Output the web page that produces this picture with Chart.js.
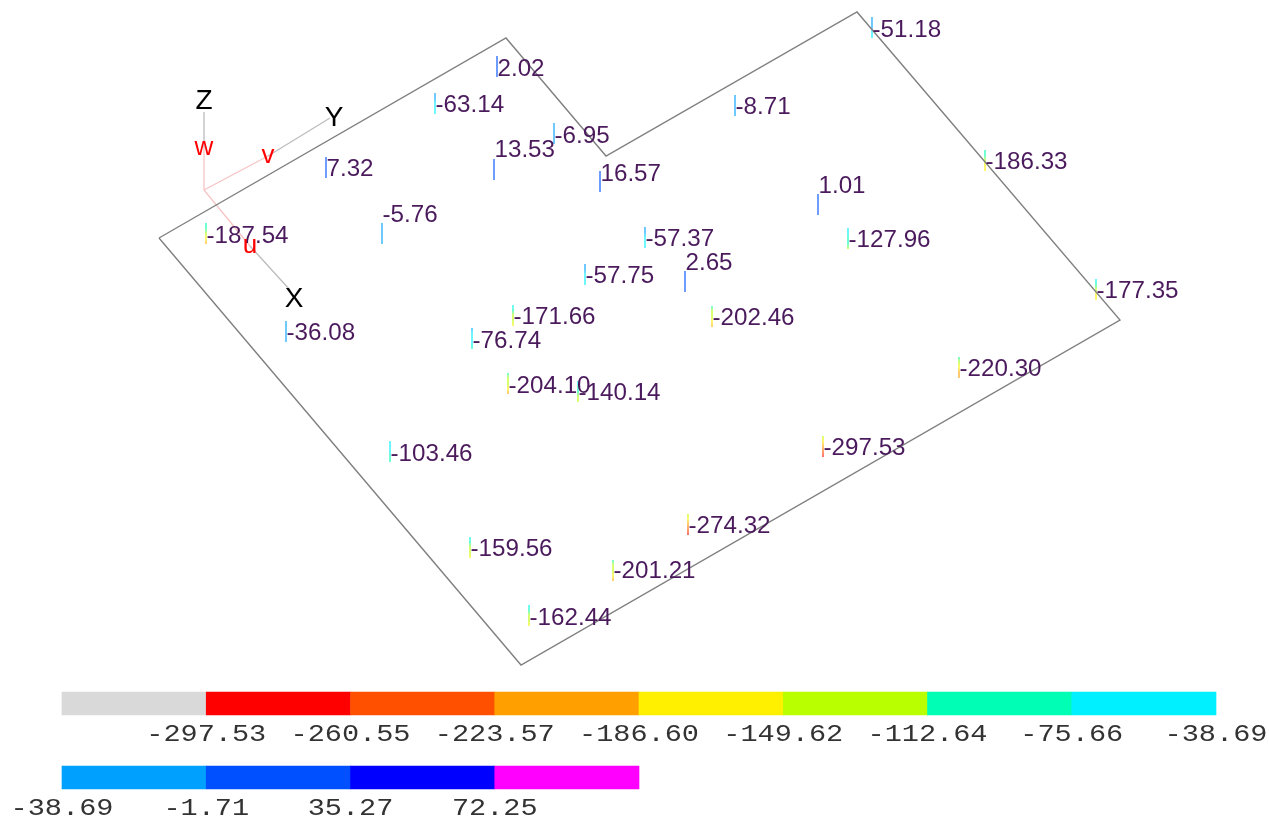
<!DOCTYPE html>
<html>
<head>
<meta charset="utf-8">
<title>Contour points</title>
<script src="https://cdn.jsdelivr.net/npm/chart.js@4/dist/chart.umd.min.js"></script>
<style>
  html, body { margin: 0; padding: 0; background: #fff; overflow: hidden; }
  #wrap { position: relative; width: 1269px; height: 818px; }
</style>
</head>
<body>
<div id="wrap"><canvas id="grafico"></canvas></div>
<script>
// point labels and where they sit on the picture
const pointLabels = ['-51.18', '2.02', '-63.14', '-6.95', '-8.71', '13.53', '7.32', '16.57', '-186.33', '1.01',
  '-5.76', '-187.54', '-127.96', '-57.37', '2.65', '-57.75', '-177.35', '-36.08', '-171.66', '-202.46',
  '-76.74', '-220.30', '-204.10', '-140.14', '-103.46', '-297.53', '-274.32', '-159.56', '-201.21', '-162.44'];
const pointX = [872, 497, 435, 554, 735, 494, 326, 600, 985, 818,
  382, 206, 848, 645, 685, 585, 1096, 286, 513, 712,
  472, 959, 508, 578, 390, 823, 688, 470, 613, 529];
const pointY = [17, 56, 93, 123, 95, 159, 157, 171, 150, 194,
  223, 223, 228, 227, 271, 264, 279, 321, 305, 306,
  328, 357, 373, 381, 441, 436, 514, 537, 560, 605];
const labelY = [30, 69, 105, 136, 107, 150, 169, 174, 162, 186,
  215, 236, 240, 239, 263, 276, 291, 333, 317, 318,
  341, 369, 386, 393, 454, 448, 526, 549, 571, 618];

const outlineX = [159, 506, 606, 857, 1120, 521, 159];
const outlineY = [238, 38, 156, 12, 320, 665, 238];

const axisNames = ['Z', 'Y', 'X'];
const axisEndX = [204, 330, 290];
const axisEndY = [112, 118, 290];
const axisMidX = [204, 268, 250];
const axisMidY = [148, 156, 246];
const axisMidNames = ['w', 'v', 'u'];
const axisNameX = [204, 334, 294];
const axisNameY = [101, 118, 299];

const ticksTop = ['-297.53', '-260.55', '-223.57', '-186.60', '-149.62', '-112.64', '-75.66', '-38.69'];
const ticksBottom = ['-38.69', '-1.71', '35.27', '72.25'];
const coloursTop = ['#d9d9d9', '#ff0000', '#ff5000', '#ffa000', '#fff000', '#baff00', '#00ffb4', '#00f0ff'];
const coloursBottom = ['#00a0ff', '#0050ff', '#0000ff', '#ff00ff'];

const ORIGEM = { x: 204, y: 190 };
const BAR_LEFT = 62;
const BAR_STEP = 144.25;
const TEXT_COLOUR = '#4a1a5c';

function corDoValor(valor) {
  const limites = ticksTop.concat(ticksBottom.slice(1)).map(Number);
  const cores = coloursTop.concat(coloursBottom);
  let i = 0;
  while (i < limites.length && valor >= limites[i]) i++;
  return cores[i];
}

function gradienteHaste(ctx, indice) {
  const valor = Number(pointLabels[indice]);
  // scales have no size yet on the first pass
  if (!ctx.chart.chartArea) return corDoValor(valor);
  const y0 = ctx.chart.scales.y.getPixelForValue(pointY[indice]);
  const g = ctx.chart.ctx.createLinearGradient(0, y0, 0, y0 + 21);
  for (let i = 0; i <= 4; i++) {
    g.addColorStop(i / 4, corDoValor(valor * (0.42 + 0.58 * i / 4)) + 'a0');
  }
  return g;
}

function linha(xs, ys, cor, largura) {
  return {
    type: 'line',
    data: xs.map((x, i) => ({ x: x, y: ys[i] })),
    borderColor: cor,
    borderWidth: largura,
    pointRadius: 0,
    tension: 0,
    fill: false
  };
}

function barras(cores, topo) {
  return {
    type: 'bar',
    data: cores.map((c, i) => ({ x: BAR_LEFT + BAR_STEP * (i + 0.5), y: [topo, topo + 23] })),
    backgroundColor: cores,
    borderWidth: 0,
    barThickness: BAR_STEP,
    grouped: false
  };
}

const datasets = [];
datasets.push(linha(outlineX, outlineY, '#808080', 1.4));

axisEndX.forEach((x, i) => {
  datasets.push(linha([axisMidX[i], x], [axisMidY[i], axisEndY[i]], '#bcbcbc', 1.3));
  datasets.push(linha([ORIGEM.x, axisMidX[i]], [ORIGEM.y, axisMidY[i]], '#f6c4c4', 1.3));
});

pointX.forEach((x, i) => {
  datasets.push(linha([x, x], [pointY[i], pointY[i] + 21], ctx => gradienteHaste(ctx, i), 1.8));
});

datasets.push(barras(coloursTop, 692));
datasets.push(barras(coloursBottom, 766));

const textos = {
  id: 'textos',
  afterDatasetsDraw(chart) {
    const ctx = chart.ctx;
    const sx = chart.scales.x;
    const sy = chart.scales.y;
    ctx.save();
    ctx.textBaseline = 'middle';

    ctx.fillStyle = TEXT_COLOUR;
    ctx.textAlign = 'left';
    ctx.font = '24.2px "Liberation Sans"';
    pointLabels.forEach((t, i) => {
      ctx.fillText(t, sx.getPixelForValue(pointX[i]) + 0.5, sy.getPixelForValue(labelY[i]));
    });

    ctx.textAlign = 'center';
    ctx.fillStyle = '#000000';
    ctx.font = '28px "Liberation Sans"';
    axisNames.forEach((t, i) => {
      ctx.fillText(t, sx.getPixelForValue(axisNameX[i]), sy.getPixelForValue(axisNameY[i]));
    });
    ctx.fillStyle = '#ff0000';
    ctx.font = '26px "Liberation Sans"';
    axisMidNames.forEach((t, i) => {
      ctx.fillText(t, sx.getPixelForValue(axisMidX[i]), sy.getPixelForValue(axisMidY[i]));
    });

    // colour bar labels are stretched sideways in the original
    ctx.fillStyle = '#333333';
    ctx.font = '24px "Liberation Mono"';
    const rotulo = (t, x, y) => {
      ctx.save();
      ctx.translate(sx.getPixelForValue(x), sy.getPixelForValue(y));
      ctx.scale(1.19, 1);
      ctx.fillText(t, 0, 0);
      ctx.restore();
    };
    ticksTop.forEach((t, i) => rotulo(t, BAR_LEFT + BAR_STEP * (i + 1), 735));
    ticksBottom.forEach((t, i) => rotulo(t, BAR_LEFT + BAR_STEP * i, 809));
    ctx.restore();
  }
};

new Chart(document.getElementById('grafico'), {
  type: 'line',
  data: { datasets: datasets },
  plugins: [textos],
  options: {
    responsive: true,
    maintainAspectRatio: false,
    animation: false,
    layout: { padding: 0 },
    scales: {
      x: { type: 'linear', display: false, min: 0, max: 1269, offset: false },
      y: { type: 'linear', display: false, min: 0, max: 818, reverse: true }
    },
    plugins: {
      legend: { display: false },
      title: { display: false },
      tooltip: { enabled: false }
    }
  }
});
</script>
</body>
</html>
